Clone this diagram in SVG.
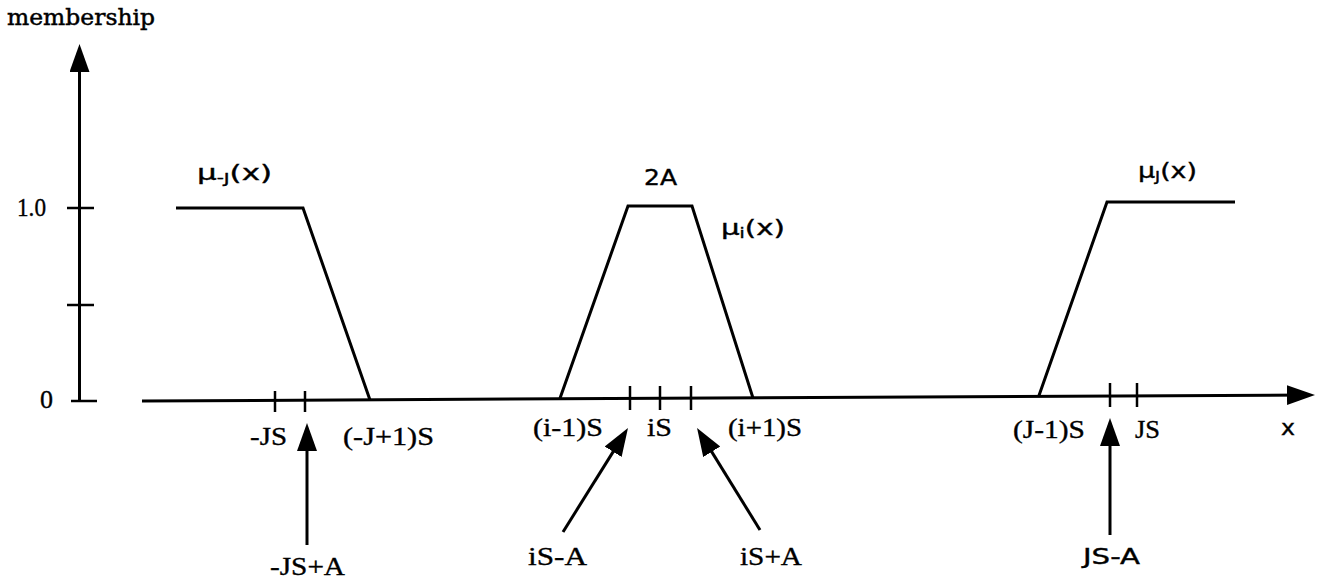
<svg xmlns="http://www.w3.org/2000/svg" width="1318" height="581" viewBox="0 0 1318 581">
<style>
.ln{stroke:#000;stroke-width:3;fill:none;stroke-linecap:butt;stroke-linejoin:miter}
.tk{stroke:#000;stroke-width:2.5;fill:none}
.ser{font-family:"Liberation Serif","Times New Roman",serif;font-size:25px;fill:#000;stroke:#000;stroke-width:0.35}
.san{font-family:"DejaVu Sans","Liberation Sans",sans-serif;font-size:22px;fill:#000;stroke:#000;stroke-width:0.4}
.mem{font-family:"DejaVu Serif","Liberation Serif",serif;font-size:23px;fill:#000;stroke:#000;stroke-width:0.5}
.sub{font-size:14px}
</style>
<defs>
<marker id="ah" markerWidth="30" markerHeight="22" refX="22" refY="10" orient="auto" markerUnits="userSpaceOnUse">
<path d="M0,0 L28,10 L0,20 z" fill="#000"/>
</marker>
</defs>
<rect width="1318" height="581" fill="#fff"/>
<g id="axes">
<text class="mem" x="7" y="25" textLength="148" lengthAdjust="spacingAndGlyphs">membership</text>
<line class="ln" x1="79.5" y1="401" x2="79.5" y2="50" marker-end="url(#ah)"/>
<line class="tk" x1="67" y1="208" x2="94" y2="208"/>
<line class="tk" x1="67" y1="305" x2="94" y2="305"/>
<line class="tk" x1="71" y1="401" x2="97" y2="401"/>
<text class="ser" x="17" y="216" textLength="29" lengthAdjust="spacingAndGlyphs">1.0</text>
<text class="ser" x="40" y="408" textLength="13" lengthAdjust="spacingAndGlyphs">0</text>
<line class="ln" x1="142" y1="401" x2="1309" y2="395" marker-end="url(#ah)"/>
<text class="san" x="1281" y="435" textLength="14" lengthAdjust="spacingAndGlyphs">x</text>
</g>
<g id="mu-neg-J">
<polyline class="ln" points="176,208 303,208 370,400"/>
<text class="san" x="197" y="180" textLength="75" lengthAdjust="spacingAndGlyphs">μ<tspan class="sub" dy="3">-J</tspan><tspan dy="-3">(x)</tspan></text>
</g>
<g id="mu-i">
<polyline class="ln" points="560,398.3 628,206 692,206 753,398"/>
<text class="san" x="644" y="185" textLength="33" lengthAdjust="spacingAndGlyphs">2A</text>
<text class="san" x="721" y="235" textLength="64" lengthAdjust="spacingAndGlyphs">μ<tspan class="sub" dy="3">i</tspan><tspan dy="-3">(x)</tspan></text>
</g>
<g id="mu-J">
<polyline class="ln" points="1039,395.5 1107,202 1235,202"/>
<text class="san" x="1138" y="178" textLength="59" lengthAdjust="spacingAndGlyphs">μ<tspan class="sub" dy="3">J</tspan><tspan dy="-3">(x)</tspan></text>
</g>
<g id="ticks">
<line class="tk" x1="275" y1="391" x2="275" y2="412"/>
<line class="tk" x1="305" y1="391" x2="305" y2="412"/>
<line class="tk" x1="630" y1="386" x2="630" y2="410"/>
<line class="tk" x1="660" y1="386" x2="660" y2="410"/>
<line class="tk" x1="691" y1="386" x2="691" y2="410"/>
<line class="tk" x1="1110" y1="383" x2="1110" y2="407"/>
<line class="tk" x1="1137" y1="383" x2="1137" y2="407"/>
<text class="ser" x="250" y="445" textLength="37" lengthAdjust="spacingAndGlyphs">-JS</text>
<text class="ser" x="343" y="445" textLength="91" lengthAdjust="spacingAndGlyphs">(-J+1)S</text>
<text class="ser" x="533" y="436" textLength="70" lengthAdjust="spacingAndGlyphs">(i-1)S</text>
<text class="ser" x="647" y="436" textLength="25" lengthAdjust="spacingAndGlyphs">iS</text>
<text class="ser" x="728" y="436" textLength="74" lengthAdjust="spacingAndGlyphs">(i+1)S</text>
<text class="ser" x="1013" y="438" textLength="72" lengthAdjust="spacingAndGlyphs">(J-1)S</text>
<text class="ser" x="1135" y="438" textLength="25" lengthAdjust="spacingAndGlyphs">JS</text>
</g>
<g id="connectors">
<line class="ln" x1="307" y1="545" x2="307" y2="429" marker-end="url(#ah)"/>
<line class="ln" x1="563" y1="532" x2="624.8" y2="433.1" marker-end="url(#ah)"/>
<line class="ln" x1="760" y1="530" x2="700.2" y2="433.1" marker-end="url(#ah)"/>
<line class="ln" x1="1110" y1="535" x2="1110" y2="424" marker-end="url(#ah)"/>
</g>
<g id="arrow-labels">
<text class="ser" x="270" y="575" textLength="75" lengthAdjust="spacingAndGlyphs">-JS+A</text>
<text class="ser" x="528" y="565" textLength="59" lengthAdjust="spacingAndGlyphs">iS-A</text>
<text class="ser" x="740" y="565" textLength="62" lengthAdjust="spacingAndGlyphs">iS+A</text>
<text class="san" x="1083" y="564" textLength="57" lengthAdjust="spacingAndGlyphs">JS-A</text>
</g>
</svg>
